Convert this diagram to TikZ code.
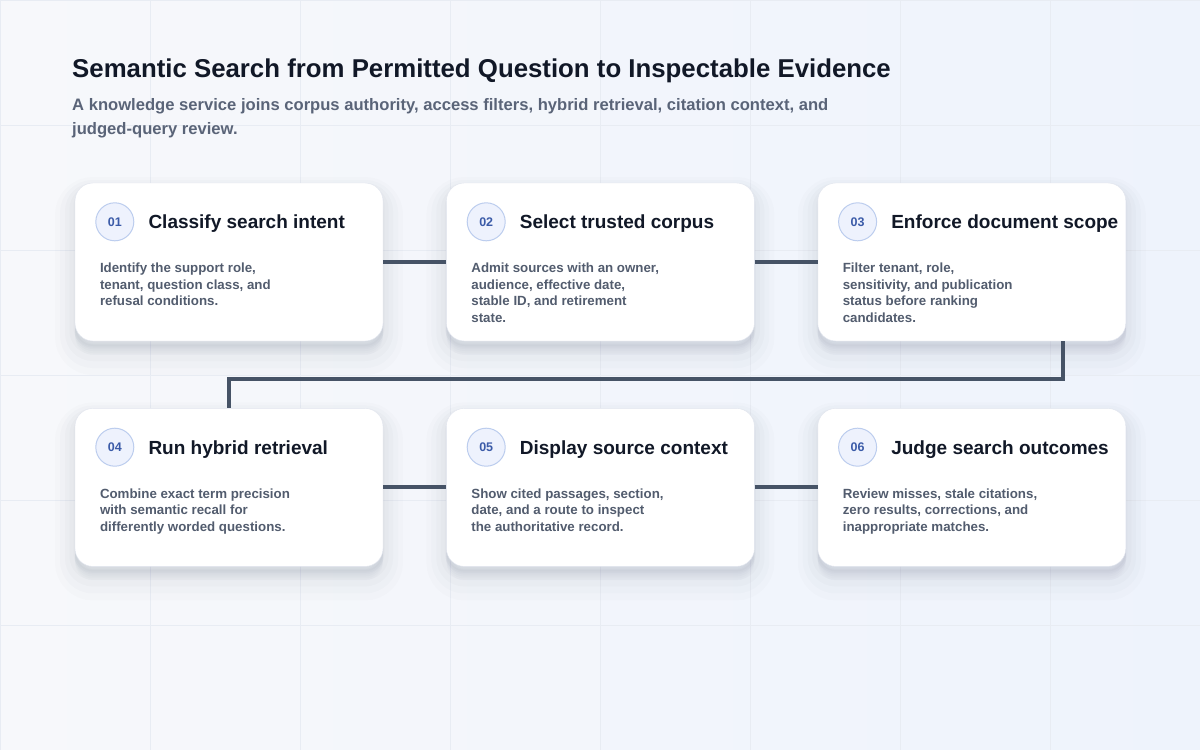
\documentclass[tikz,border=0pt]{standalone}
\usepackage{fontspec}
\setmainfont{Liberation Sans}
\usetikzlibrary{positioning}
\definecolor{bgleft}{HTML}{F7F8FB}
\definecolor{bgright}{HTML}{EEF3FC}
\definecolor{gridcol}{HTML}{E8ECF3}
\definecolor{ink}{HTML}{111827}
\definecolor{subink}{HTML}{5A6478}
\definecolor{bodyink}{HTML}{525C6E}
\definecolor{cardline}{HTML}{E1E5EE}
\definecolor{numfill}{HTML}{EEF2FD}
\definecolor{numline}{HTML}{BCCDEE}
\definecolor{numink}{HTML}{3B5BA8}
\definecolor{linkcol}{HTML}{465366}
\definecolor{shadowcol}{HTML}{2A3550}

\tikzset{
  card/.style={draw=cardline,fill=white,rounded corners=18pt,minimum width=308pt,minimum height=158pt,inner sep=0pt,
    preaction={fill=shadowcol,draw=shadowcol,line width=40pt,opacity=0.012,transform canvas={yshift=-14pt}},
    preaction={fill=shadowcol,draw=shadowcol,line width=30pt,opacity=0.015,transform canvas={yshift=-12pt}},
    preaction={fill=shadowcol,draw=shadowcol,line width=20pt,opacity=0.018,transform canvas={yshift=-10pt}},
    preaction={fill=shadowcol,draw=shadowcol,line width=11pt,opacity=0.02,transform canvas={yshift=-8pt}},
    preaction={fill=shadowcol,draw=shadowcol,line width=3pt,opacity=0.022,transform canvas={yshift=-5pt}}},
  num/.style={circle,draw=numline,fill=numfill,line width=1pt,minimum size=38pt,inner sep=0pt,text=numink,font=\bfseries\fontsize{12.5}{12.5}\selectfont},
  steptitle/.style={anchor=base west,inner sep=0pt,text=ink,font=\bfseries\fontsize{19}{22}\selectfont},
  stepbody/.style={anchor=north west,inner sep=0pt,align=left,text=bodyink,font=\bfseries\fontsize{13.3}{16.5}\selectfont},
  link/.style={draw=linkcol,line width=4pt}
}

\begin{document}
\begin{tikzpicture}[x=1pt,y=-1pt]
        \useasboundingbox (0,0) rectangle (1200,750);
        \shade[left color=bgleft,right color=bgright] (0,0) rectangle (1200,750);
        \draw[gridcol,line width=1pt,xstep=150pt,ystep=125pt] (0,0) grid (1200,750);
        % heading
        \node[anchor=base west,inner sep=0pt,text=ink,font=\bfseries\fontsize{25.8}{30}\selectfont] (title) at (72,77) {Semantic Search from Permitted Question to Inspectable Evidence};
        \node[anchor=north west,inner sep=0pt,align=left,text=subink,font=\bfseries\fontsize{16.6}{24.5}\selectfont] (subtitle) at (72,98) {A knowledge service joins corpus authority, access filters, hybrid retrieval, citation context, and\\judged-query review.};
        % cards
        \node[card] (c1) at (229,262) {};
        \node[card,right=63pt of c1] (c2) {};
        \node[card,right=63pt of c2] (c3) {};
        \node[card,below=67pt of c1] (c4) {};
        \node[card,right=63pt of c4] (c5) {};
        \node[card,right=63pt of c5] (c6) {};
        % connectors
        \draw[link] (c1.east) -- (c2.west);
        \draw[link] (c2.east) -- (c3.west);
        \draw[link] ([xshift=91pt]c3.south) -- ++(0,38) -| (c4.north);
        \draw[link] (c4.east) -- (c5.west);
        \draw[link] (c5.east) -- (c6.west);
        % step 01
        \node[num] (n1) at ([shift={(40,39)}]c1.north west) {01};
        \node[steptitle] (t1) at ([xshift=14pt,yshift=-7pt]n1.east) {Classify search intent};
        \node[stepbody] (b1) at ([shift={(25,80)}]c1.north west) {Identify the support role,\\tenant, question class, and\\refusal conditions.};
        % step 02
        \node[num] (n2) at ([shift={(40,39)}]c2.north west) {02};
        \node[steptitle] (t2) at ([xshift=14pt,yshift=-7pt]n2.east) {Select trusted corpus};
        \node[stepbody] (b2) at ([shift={(25,80)}]c2.north west) {Admit sources with an owner,\\audience, effective date,\\stable ID, and retirement\\state.};
        % step 03
        \node[num] (n3) at ([shift={(40,39)}]c3.north west) {03};
        \node[steptitle] (t3) at ([xshift=14pt,yshift=-7pt]n3.east) {Enforce document scope};
        \node[stepbody] (b3) at ([shift={(25,80)}]c3.north west) {Filter tenant, role,\\sensitivity, and publication\\status before ranking\\candidates.};
        % step 04
        \node[num] (n4) at ([shift={(40,39)}]c4.north west) {04};
        \node[steptitle] (t4) at ([xshift=14pt,yshift=-7pt]n4.east) {Run hybrid retrieval};
        \node[stepbody] (b4) at ([shift={(25,80)}]c4.north west) {Combine exact term precision\\with semantic recall for\\differently worded questions.};
        % step 05
        \node[num] (n5) at ([shift={(40,39)}]c5.north west) {05};
        \node[steptitle] (t5) at ([xshift=14pt,yshift=-7pt]n5.east) {Display source context};
        \node[stepbody] (b5) at ([shift={(25,80)}]c5.north west) {Show cited passages, section,\\date, and a route to inspect\\the authoritative record.};
        % step 06
        \node[num] (n6) at ([shift={(40,39)}]c6.north west) {06};
        \node[steptitle] (t6) at ([xshift=14pt,yshift=-7pt]n6.east) {Judge search outcomes};
        \node[stepbody] (b6) at ([shift={(25,80)}]c6.north west) {Review misses, stale citations,\\zero results, corrections, and\\inappropriate matches.};
\end{tikzpicture}
\end{document}
